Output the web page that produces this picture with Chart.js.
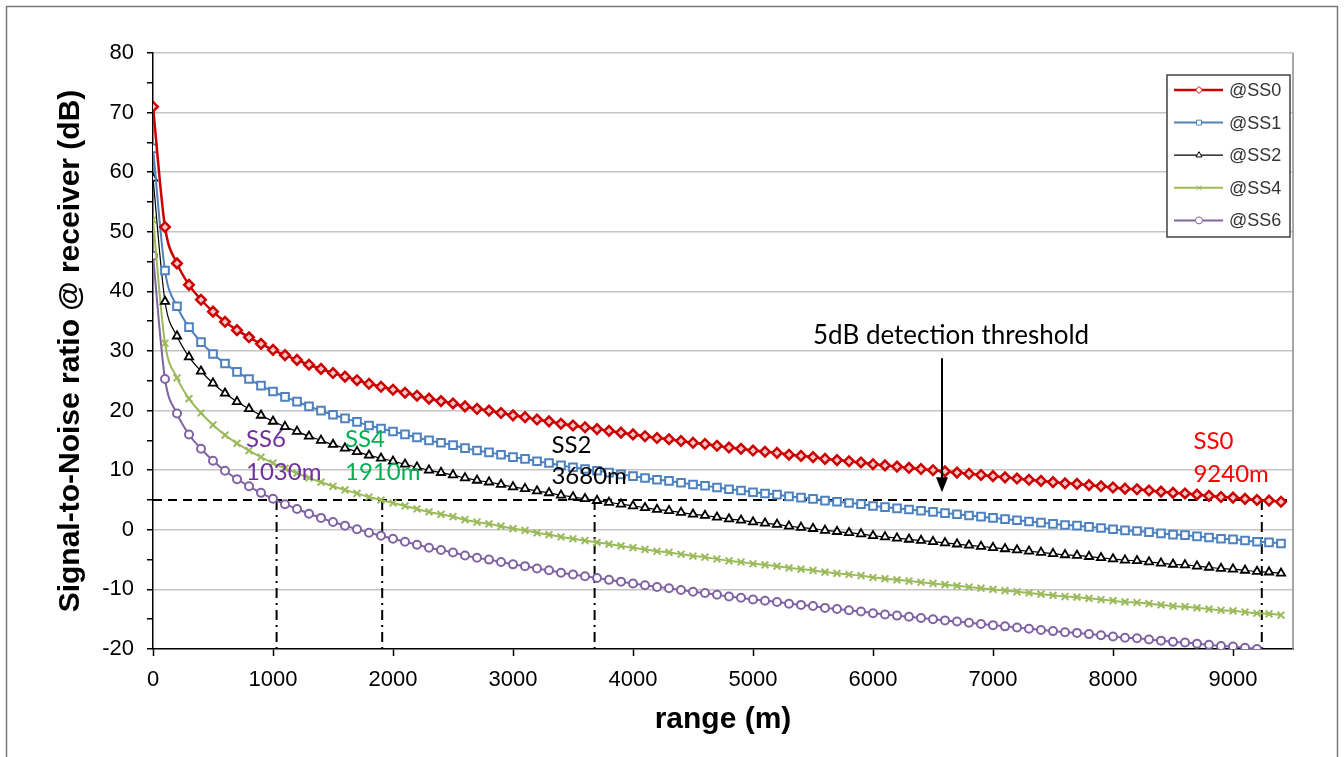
<!DOCTYPE html>
<html><head><meta charset="utf-8">
<script src="https://cdn.jsdelivr.net/npm/chart.js@4.4.1/dist/chart.umd.min.js"></script>
<style>html,body{margin:0;padding:0;background:#fff;}canvas{display:block;}</style>
</head><body>
<canvas id="c" width="1344" height="757"></canvas>
<script>
// ---------- DATA ----------
const rangeM = [0,100,200,300,400,500,600,700,800,900,1000,1100,1200,1300,1400,1500,1600,1700,1800,1900,2000,2100,2200,2300,2400,2500,2600,2700,2800,2900,3000,3100,3200,3300,3400,3500,3600,3700,3800,3900,4000,4100,4200,4300,4400,4500,4600,4700,4800,4900,5000,5100,5200,5300,5400,5500,5600,5700,5800,5900,6000,6100,6200,6300,6400,6500,6600,6700,6800,6900,7000,7100,7200,7300,7400,7500,7600,7700,7800,7900,8000,8100,8200,8300,8400,8500,8600,8700,8800,8900,9000,9100,9200,9300,9400];
const snrSS0 = [71.0,50.8,44.7,41.1,38.6,36.6,34.9,33.5,32.3,31.2,30.2,29.3,28.5,27.7,27.0,26.3,25.7,25.1,24.5,24.0,23.5,23.0,22.5,22.0,21.6,21.2,20.7,20.3,20.0,19.6,19.2,18.9,18.5,18.2,17.8,17.5,17.2,16.9,16.6,16.3,16.0,15.7,15.4,15.2,14.9,14.6,14.4,14.1,13.8,13.6,13.3,13.1,12.9,12.6,12.4,12.2,11.9,11.7,11.5,11.3,11.0,10.8,10.6,10.4,10.2,10.0,9.8,9.6,9.4,9.2,9.0,8.8,8.6,8.4,8.2,8.0,7.8,7.7,7.5,7.3,7.1,6.9,6.8,6.6,6.4,6.2,6.1,5.9,5.7,5.5,5.4,5.2,5.0,4.9,4.7];
const snrSS1 = [64.0,43.5,37.5,34.0,31.5,29.5,27.9,26.5,25.3,24.2,23.2,22.3,21.5,20.7,20.0,19.3,18.7,18.1,17.5,17.0,16.5,16.0,15.5,15.0,14.6,14.2,13.7,13.3,13.0,12.6,12.2,11.9,11.5,11.2,10.8,10.5,10.2,9.9,9.6,9.3,9.0,8.7,8.4,8.2,7.9,7.6,7.4,7.1,6.8,6.6,6.3,6.1,5.9,5.6,5.4,5.2,4.9,4.7,4.5,4.3,4.0,3.8,3.6,3.4,3.2,3.0,2.8,2.6,2.4,2.2,2.0,1.8,1.6,1.4,1.2,1.0,0.8,0.7,0.5,0.3,0.1,-0.1,-0.2,-0.4,-0.6,-0.8,-0.9,-1.1,-1.3,-1.5,-1.6,-1.8,-2.0,-2.1,-2.3];
const snrSS2 = [59.0,38.3,32.5,29.0,26.6,24.6,22.9,21.5,20.3,19.2,18.2,17.3,16.5,15.7,15.0,14.3,13.7,13.1,12.5,12.0,11.5,11.0,10.5,10.0,9.6,9.2,8.7,8.3,8.0,7.6,7.2,6.9,6.5,6.2,5.8,5.5,5.2,4.9,4.6,4.3,4.0,3.7,3.4,3.2,2.9,2.6,2.4,2.1,1.8,1.6,1.3,1.1,0.9,0.6,0.4,0.2,-0.1,-0.3,-0.5,-0.7,-1.0,-1.2,-1.4,-1.6,-1.8,-2.0,-2.2,-2.4,-2.6,-2.8,-3.0,-3.2,-3.4,-3.6,-3.8,-4.0,-4.2,-4.3,-4.5,-4.7,-4.9,-5.1,-5.2,-5.4,-5.6,-5.8,-5.9,-6.1,-6.3,-6.5,-6.6,-6.8,-7.0,-7.1,-7.3];
const snrSS4 = [52.0,31.3,25.5,22.0,19.6,17.6,15.9,14.5,13.3,12.2,11.2,10.3,9.5,8.7,8.0,7.3,6.7,6.1,5.5,5.0,4.5,4.0,3.5,3.0,2.6,2.2,1.7,1.3,1.0,0.6,0.2,-0.1,-0.5,-0.8,-1.2,-1.5,-1.8,-2.1,-2.4,-2.7,-3.0,-3.3,-3.6,-3.8,-4.1,-4.4,-4.6,-4.9,-5.2,-5.4,-5.7,-5.9,-6.1,-6.4,-6.6,-6.8,-7.1,-7.3,-7.5,-7.7,-8.0,-8.2,-8.4,-8.6,-8.8,-9.0,-9.2,-9.4,-9.6,-9.8,-10.0,-10.2,-10.4,-10.6,-10.8,-11.0,-11.2,-11.3,-11.5,-11.7,-11.9,-12.1,-12.2,-12.4,-12.6,-12.8,-12.9,-13.1,-13.3,-13.5,-13.6,-13.8,-14.0,-14.1,-14.3];
const snrSS6 = [46.0,25.3,19.5,16.0,13.6,11.6,9.9,8.5,7.3,6.2,5.2,4.3,3.5,2.7,2.0,1.3,0.7,0.1,-0.5,-1.0,-1.5,-2.0,-2.5,-3.0,-3.4,-3.8,-4.3,-4.7,-5.0,-5.4,-5.8,-6.1,-6.5,-6.8,-7.2,-7.5,-7.8,-8.1,-8.4,-8.7,-9.0,-9.3,-9.6,-9.8,-10.1,-10.4,-10.6,-10.9,-11.2,-11.4,-11.7,-11.9,-12.1,-12.4,-12.6,-12.8,-13.1,-13.3,-13.5,-13.7,-14.0,-14.2,-14.4,-14.6,-14.8,-15.0,-15.2,-15.4,-15.6,-15.8,-16.0,-16.2,-16.4,-16.6,-16.8,-17.0,-17.2,-17.3,-17.5,-17.7,-17.9,-18.1,-18.2,-18.4,-18.6,-18.8,-18.9,-19.1,-19.3,-19.5,-19.6,-19.8,-20.0,null,null];
const seriesLabels = ['@SS0','@SS1','@SS2','@SS4','@SS6'];
const xTickValues = [0,1000,2000,3000,4000,5000,6000,7000,8000,9000];
const yTickValues = [-20,-10,0,10,20,30,40,50,60,70,80];
const thresholdDb = 5;
const crossingRanges = [1030,1910,3680,9240];
const crossingNames = ['SS6','SS4','SS2','SS0'];
const crossingTexts = ['1030m','1910m','3680m','9240m'];
const thresholdText = '5dB detection threshold';
const xTitle = 'range (m)';
const yTitle = 'Signal-to-Noise ratio @ receiver (dB)';

// ---------- STYLE ----------
const ARIAL = "'Liberation Sans', Arial, sans-serif";
const CAL = "Lato, 'Open Sans', sans-serif";
const seriesStyle = [
  {color:'#CC0000', width:2.5, point:'rectRot', r:4.8, bw:2.5, bg:'#f3c6c6'},
  {color:'#4F81BD', width:2, point:'rect', r:5.4, bw:2, bg:'#ffffff'},
  {color:'#000000', width:1.2, point:'triangle', r:4.8, bw:1.8, bg:'#ffffff'},
  {color:'#9BBB59', width:2, point:'crossRot', r:4.8, bw:2, bg:'#ffffff'},
  {color:'#8064A2', width:2, point:'circle', r:4, bw:2, bg:'#ffffff'}
];
const seriesValues = [snrSS0, snrSS1, snrSS2, snrSS4, snrSS6];
const labelColors = ['#7030A0','#00B050','#000000','#FF0000'];
const labelPos = [ // [x value, first-line center y value, second-line center y value]
  [775, 15.2, 9.6],[1600, 15.2, 9.6],[3320, 14.2, 8.9],[8670, 14.9, 9.4]
];

const datasets = seriesValues.map((vals,i)=>({
  label: seriesLabels[i],
  data: rangeM.map((x,j)=>({x, y: vals[j]})),
  borderColor: seriesStyle[i].color,
  backgroundColor: seriesStyle[i].color,
  borderWidth: seriesStyle[i].width,
  pointStyle: seriesStyle[i].point,
  pointRadius: seriesStyle[i].r,
  pointBorderWidth: seriesStyle[i].bw,
  pointBorderColor: seriesStyle[i].color,
  pointBackgroundColor: seriesStyle[i].bg,
  cubicInterpolationMode: 'monotone',
  spanGaps: false
}));

const annot = {
  id: 'annot',
  beforeDatasetsDraw(chart){
    const {ctx, chartArea:a, scales:{x,y}} = chart;
    ctx.save();
    ctx.strokeStyle = '#8c8c8c'; ctx.lineWidth = 1.5;
    ctx.beginPath(); ctx.moveTo(a.right, a.top); ctx.lineTo(a.right, a.bottom); ctx.stroke();
    const yt = y.getPixelForValue(thresholdDb);
    ctx.strokeStyle = '#000'; ctx.lineWidth = 2;
    ctx.setLineDash([9,6]);
    ctx.beginPath(); ctx.moveTo(a.left, yt); ctx.lineTo(a.right, yt); ctx.stroke();
    ctx.setLineDash([10,5,2,5]);
    crossingRanges.forEach(r=>{
      const px = x.getPixelForValue(r);
      ctx.beginPath(); ctx.moveTo(px, yt); ctx.lineTo(px, a.bottom); ctx.stroke();
    });
    ctx.restore();
  },
  afterDatasetsDraw(chart){
    const {ctx, scales:{x,y}} = chart;
    ctx.save();
    ctx.font = '24px ' + CAL;
    ctx.textAlign = 'left'; ctx.textBaseline = 'middle';
    crossingNames.forEach((n,i)=>{
      ctx.fillStyle = labelColors[i];
      const px = x.getPixelForValue(labelPos[i][0]);
      ctx.fillText(n, px, y.getPixelForValue(labelPos[i][1]));
      ctx.fillText(crossingTexts[i], px, y.getPixelForValue(labelPos[i][2]));
    });
    ctx.fillStyle = '#000';
    ctx.font = '26px ' + CAL;
    ctx.fillText(thresholdText, x.getPixelForValue(5500), y.getPixelForValue(32.5));
    const ax = x.getPixelForValue(6575);
    const ay0 = y.getPixelForValue(28.8), ay1 = y.getPixelForValue(6.3);
    ctx.strokeStyle = '#000'; ctx.lineWidth = 2;
    ctx.beginPath(); ctx.moveTo(ax, ay0); ctx.lineTo(ax, ay1 - 12); ctx.stroke();
    ctx.beginPath(); ctx.moveTo(ax, ay1); ctx.lineTo(ax - 6, ay1 - 15); ctx.lineTo(ax + 6, ay1 - 15); ctx.closePath(); ctx.fill();
    // legend
    const lx = 1167, ly = 75, lw = 123, lh = 162;
    ctx.fillStyle = '#fff'; ctx.fillRect(lx, ly, lw, lh);
    ctx.strokeStyle = '#404040'; ctx.lineWidth = 1.5; ctx.strokeRect(lx, ly, lw, lh);
    ctx.font = '18px ' + ARIAL; ctx.textBaseline = 'middle';
    chart.data.datasets.forEach((ds,i)=>{
      const cy = ly + 15 + i * 32.6;
      ctx.strokeStyle = ds.borderColor; ctx.lineWidth = ds.borderWidth;
      ctx.beginPath(); ctx.moveTo(lx + 7, cy); ctx.lineTo(lx + 56, cy); ctx.stroke();
      ctx.fillStyle = '#fff'; ctx.strokeStyle = ds.borderColor; ctx.lineWidth = 1;
      Chart.helpers.drawPoint(ctx, {pointStyle: ds.pointStyle, rotation: 0, radius: 3.5, borderWidth: 1}, lx + 32, cy);
      ctx.fillStyle = '#333';
      ctx.fillText(ds.label, lx + 62, cy + 1);
    });
    ctx.restore();
  },
  afterDraw(chart){
    const ctx = chart.ctx;
    ctx.save();
    ctx.strokeStyle = '#7a7a7a'; ctx.lineWidth = 1.5;
    ctx.beginPath(); ctx.moveTo(6.5, 757); ctx.lineTo(6.5, 6.5); ctx.lineTo(1337.5, 6.5); ctx.lineTo(1337.5, 757); ctx.stroke();
    ctx.restore();
  }
};

new Chart(document.getElementById('c'), {
  type: 'line',
  data: { datasets },
  options: {
    responsive: false, animation: false, devicePixelRatio: 1,
    layout: { padding: { left: 53, right: 51, top: 53, bottom: 19 } },
    plugins: { legend: { display: false }, tooltip: { enabled: false } },
    scales: {
      x: {
        type: 'linear', min: 0, max: 9500,
        afterBuildTicks: s => { s.ticks = xTickValues.map(v=>({value:v})); },
        afterFit: s => { s.height = 89; },
        ticks: { font: { family: ARIAL, size: 22 }, color: '#000', padding: 11, maxRotation: 0, autoSkip: false,
                 callback: v => String(v) },
        grid: { drawOnChartArea: false, drawTicks: true, tickLength: 7, tickColor: '#000', tickWidth: 1.5 },
        border: { color: '#000', width: 1.5 },
        title: { display: true, text: xTitle, font: { family: ARIAL, size: 30, weight: 'bold' }, color: '#000', padding: 0 }
      },
      y: {
        type: 'linear', min: -20, max: 80,
        afterBuildTicks: s => { const t=[]; yTickValues.forEach((v,i)=>{ t.push({value:v}); if(i<yTickValues.length-1) t.push({value:(v+yTickValues[i+1])/2}); }); s.ticks = t; },
        afterFit: s => { s.width = 100; },
        ticks: { font: { family: ARIAL, size: 22 }, color: '#000', padding: 13, autoSkip: false,
                 callback: v => yTickValues.includes(v) ? String(v) : '' },
        grid: { color: c => (c.tick && yTickValues.includes(c.tick.value) && c.tick.value !== -20) ? '#c4c4c4' : 'rgba(0,0,0,0)',
                lineWidth: 1.5, drawTicks: true, tickLength: 6, tickColor: '#000', tickWidth: 1.5 },
        border: { color: '#000', width: 1.5 },
        title: { display: true, text: yTitle, font: { family: ARIAL, size: 30, weight: 'bold' }, color: '#000', padding: 0 }
      }
    }
  },
  plugins: [annot]
});
</script>
</body></html>
